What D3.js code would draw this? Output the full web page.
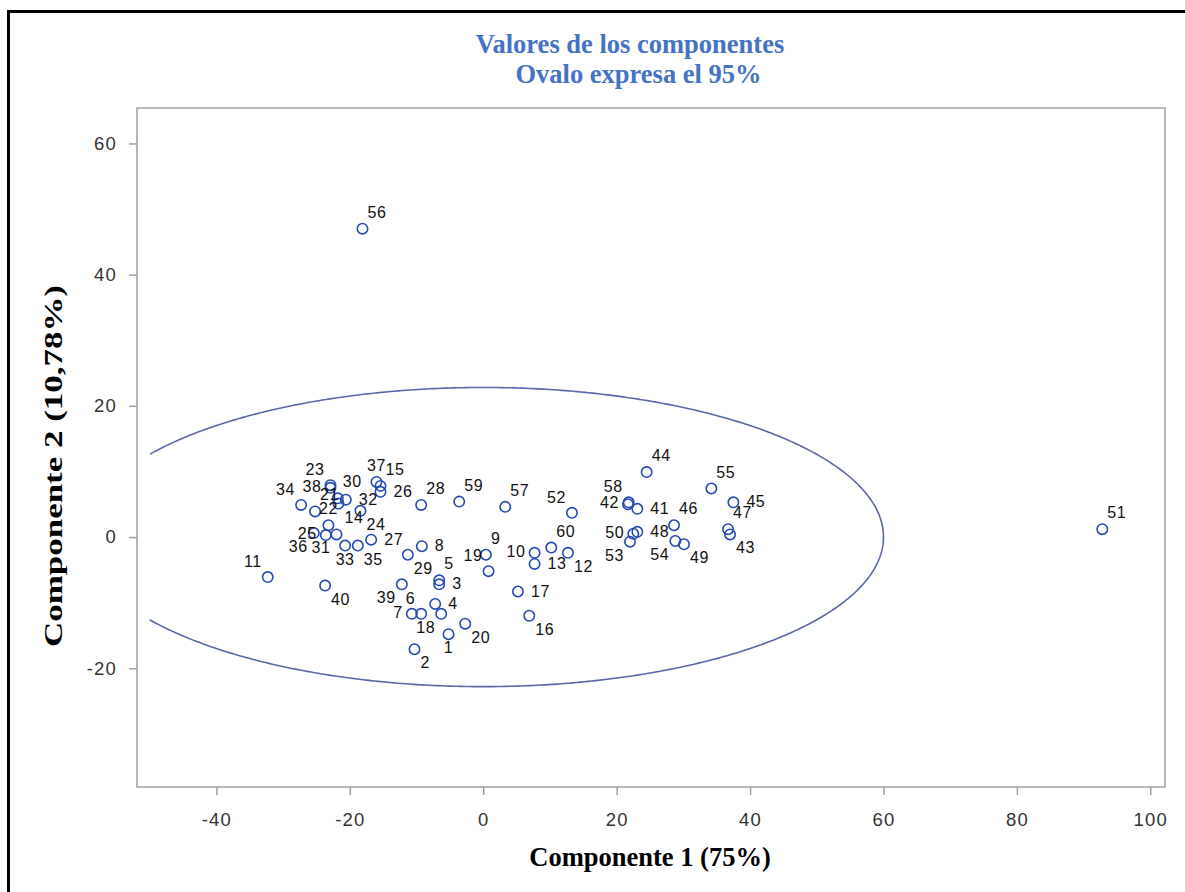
<!DOCTYPE html>
<html>
<head>
<meta charset="utf-8">
<script src="https://cdn.jsdelivr.net/npm/d3@7"></script>
<style>
  body { margin: 0; background: #fff; }
  svg { display: block; }
</style>
</head>
<body>
<div id="chart"></div>
<script>
/**
 * DATA
 * */
// component scores per observation (observation n = index + 1)
const comp1 = [-5.2, -10.3, -6.6, -7.2, -6.6, -9.3, -10.7, -9.2, 0.4, 7.7,
  -32.3, 12.7, 7.7, -21.7, -15.4, 6.9, 5.2, -6.3, 0.8, -2.7,
  -25.2, -23.2, -22.9, -18.4, -23.6, -15.4, -16.8, -9.3, -11.3, -21.8,
  -22.0, -20.6, -20.7, -27.3, -18.8, -25.4, -16.0, -22.9, -12.2, -23.7,
  23.1, 21.7, 37.0, 24.5, 37.5, 28.6, 36.7, 23.1, 30.1, 22.5,
  92.8, 13.3, 22.0, 28.8, 34.2, -18.1, 3.3, 21.8, -3.6, 10.2];
const comp2 = [-14.8, -17.1, -7.2, -10.2, -6.6, -11.7, -11.7, -1.4, -2.7, -2.4,
  -6.1, -2.4, -4.1, 5.1, 7.8, -12.0, -8.3, -11.7, -5.2, -13.2,
  3.9, 1.8, 7.9, 4.0, 0.3, 6.9, -0.4, 4.9, -2.7, 5.9,
  0.4, 5.7, -1.3, 4.9, -1.3, 0.6, 8.4, 7.5, -7.2, -7.4,
  4.3, 5.0, 0.4, 9.9, 5.3, 1.8, 1.2, 0.8, -1.1, 0.5,
  1.2, 3.7, -0.7, -0.6, 7.4, 47.0, 4.6, 5.3, 5.4, -1.6];
// where each point's label sits (compass side)
const labelSide = ["S", "SE", "E", "E", "NE", "NW", "W", "E", "NE", "W",
  "NW", "SE", "E", "SE", "NE", "SE", "E", "SW", "NW", "SE",
  "NE", "N", "NW", "SE", "W", "E", "E", "NE", "SE", "NE",
  "SW", "E", "S", "NW", "SE", "SW", "N", "W", "SW", "SE",
  "E", "W", "SE", "NE", "E", "NE", "NE", "E", "SE", "W",
  "NE", "NW", "SW", "SW", "NE", "NE", "NE", "NW", "NE", "NE"];

const xTicks = [-40, -20, 0, 20, 40, 60, 80, 100];
const yTicks = [-20, 0, 20, 40, 60];
const xDomain = [-51.9, 102.2];
const yDomain = [-38.1, 65.4];
const ovalRadii = [60, 22.8]; // 95% oval, centred at origin
const ovalMinX = -50;

const titleLines = ["Valores de los componentes", "Ovalo expresa el 95%"];
const xTitle = "Componente 1 (75%)";
const yTitle = "Componente 2 (10,78%)";

/**
 * CONSTANTS
 * */
const width = 1185, height = 892;
const plot = { left: 137, top: 108, right: 1165, bottom: 787 };
const blue = "#2549B2";
const sansFont = "'Liberation Sans', Arial, sans-serif";
const serifFont = "'Liberation Serif', 'Times New Roman', serif";

// label offsets from circle centre
const side = {
  NE: { a: "start", dx: 5, dy: -11 },
  N: { a: "middle", dx: 0, dy: -11 },
  NW: { a: "end", dx: -6, dy: -10 },
  E: { a: "start", dx: 13, dy: 5 },
  W: { a: "end", dx: -9, dy: 4 },
  SE: { a: "start", dx: 6, dy: 19 },
  S: { a: "middle", dx: 0, dy: 19 },
  SW: { a: "end", dx: -6, dy: 19 },
};

const data = comp1.map((c, i) => ({ id: i + 1, x: c, y: comp2[i], pos: labelSide[i] }));

const svg = d3.select("#chart")
  .append("svg")
  .attr("width", width)
  .attr("height", height);

svg.append("rect")
  .attr("width", width).attr("height", height)
  .attr("fill", "#fff");

// outer black border
svg.append("rect")
  .attr("x", 8.5).attr("y", 11.5)
  .attr("width", width + 10).attr("height", height + 10)
  .attr("fill", "none")
  .attr("stroke", "#000")
  .attr("stroke-width", 3);

const x = d3.scaleLinear().domain(xDomain).range([plot.left, plot.right]);
const y = d3.scaleLinear().domain(yDomain).range([plot.bottom, plot.top]);

// axes (plain hyphen for negatives, like the original)
const fmt = d => String(d);
const xAxis = svg.append("g")
  .attr("transform", `translate(0,${plot.bottom})`)
  .call(d3.axisBottom(x).tickValues(xTicks).tickFormat(fmt).tickSize(8).tickPadding(18));
const yAxis = svg.append("g")
  .attr("transform", `translate(${plot.left},0)`)
  .call(d3.axisLeft(y).tickValues(yTicks).tickFormat(fmt).tickSize(8).tickPadding(12));

[xAxis, yAxis].forEach(g => {
  g.select(".domain").remove();
  g.selectAll(".tick line").attr("stroke", "#A0A0A0").attr("stroke-width", 1.5);
  g.selectAll(".tick text")
    .attr("fill", "#333")
    .style("font-family", sansFont)
    .style("font-size", "18.5px")
    .style("letter-spacing", "1.2px");
});

// plot frame
svg.append("rect")
  .attr("x", plot.left).attr("y", plot.top)
  .attr("width", plot.right - plot.left)
  .attr("height", plot.bottom - plot.top)
  .attr("fill", "none")
  .attr("stroke", "#A0A0A0")
  .attr("stroke-width", 1.5);

// 95% oval, cut where x < ovalMinX
const tMax = Math.acos(ovalMinX / ovalRadii[0]);
const angles = d3.range(-tMax, tMax + 0.001, 0.01);
const oval = d3.line()
  .x(t => x(ovalRadii[0] * Math.cos(t)))
  .y(t => y(ovalRadii[1] * Math.sin(t)));

svg.append("path")
  .attr("d", oval(angles))
  .attr("fill", "none")
  .attr("stroke", "#5A67A8")
  .attr("stroke-width", 1.6);

// points
svg.append("g")
  .selectAll("circle")
  .data(data)
  .join("circle")
  .attr("cx", d => x(d.x))
  .attr("cy", d => y(d.y))
  .attr("r", 5.2)
  .attr("fill", "none")
  .attr("stroke", blue)
  .attr("stroke-width", 1.6);

svg.append("g")
  .selectAll("text")
  .data(data)
  .join("text")
  .attr("x", d => x(d.x) + side[d.pos].dx)
  .attr("y", d => y(d.y) + side[d.pos].dy)
  .attr("text-anchor", d => side[d.pos].a)
  .attr("fill", "#111")
  .style("font-family", sansFont)
  .style("font-size", "16px")
  .style("letter-spacing", "0.6px")
  .text(d => d.id);

// titles
svg.append("text")
  .attr("x", 630).attr("y", 53)
  .attr("text-anchor", "middle")
  .attr("fill", "#4472C4")
  .style("font-family", serifFont)
  .style("font-weight", "bold")
  .style("font-size", "26.5px")
  .text(titleLines[0]);
svg.append("text")
  .attr("x", 638.5).attr("y", 83)
  .attr("text-anchor", "middle")
  .attr("fill", "#4472C4")
  .style("font-family", serifFont)
  .style("font-weight", "bold")
  .style("font-size", "26.5px")
  .text(titleLines[1]);

svg.append("text")
  .attr("x", 650).attr("y", 866)
  .attr("text-anchor", "middle")
  .attr("fill", "#000")
  .style("font-family", serifFont)
  .style("font-weight", "bold")
  .style("font-size", "26.5px")
  .text(xTitle);

svg.append("text")
  .attr("transform", "translate(62,466) rotate(-90)")
  .attr("text-anchor", "middle")
  .attr("fill", "#000")
  .attr("textLength", 362)
  .attr("lengthAdjust", "spacingAndGlyphs")
  .style("font-family", serifFont)
  .style("font-weight", "bold")
  .style("font-size", "26px")
  .text(yTitle);
</script>
</body>
</html>
